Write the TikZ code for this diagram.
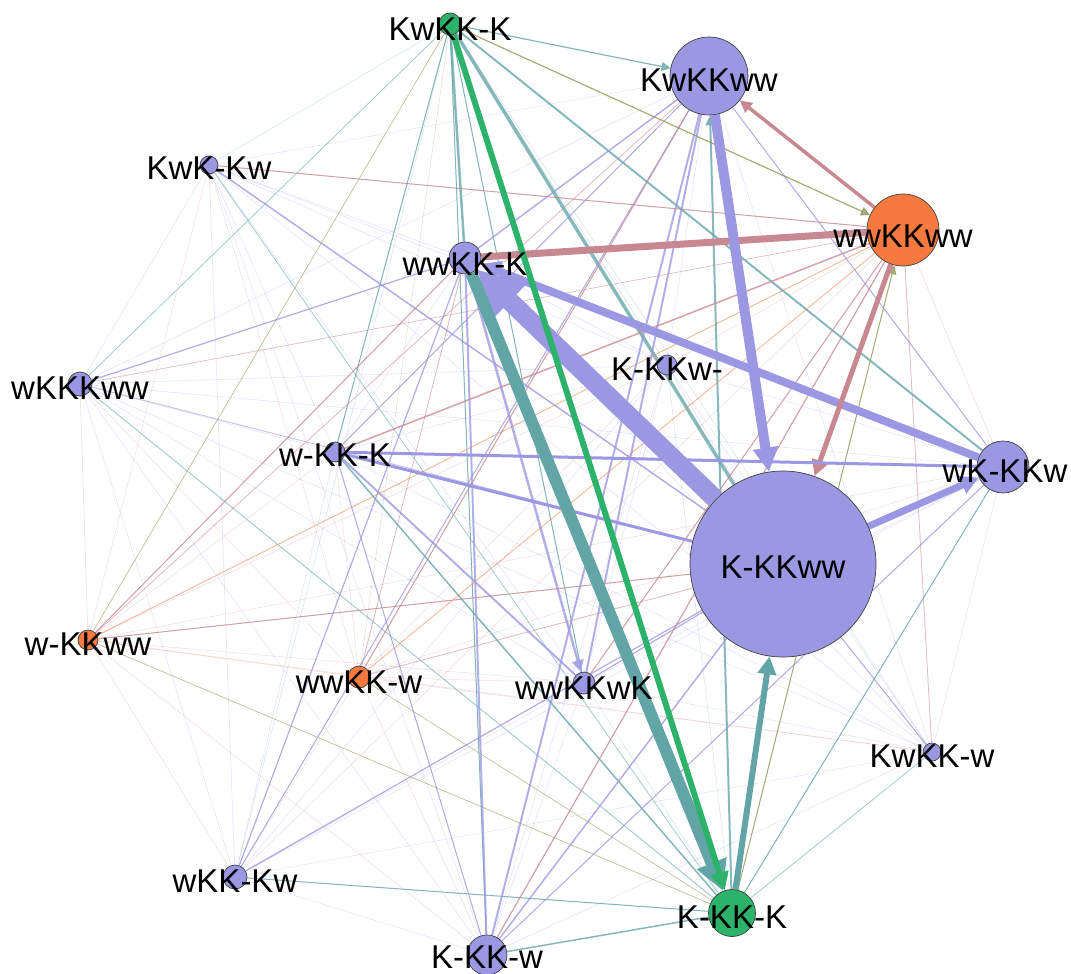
\documentclass[tikz,border=0pt]{standalone}
\usepackage{fontspec}
\setmainfont{Liberation Sans}
\usetikzlibrary{arrows.meta}
\definecolor{vpurple}{RGB}{155,151,226}
\definecolor{vorange}{RGB}{246,121,64}
\definecolor{vgreen}{RGB}{44,178,106}
\colorlet{eteal}{vpurple!50!vgreen}
\colorlet{epink}{vpurple!50!vorange}
\colorlet{eolive}{vorange!50!vgreen}
\pgfdeclarelayer{edges}
\pgfsetlayers{edges,main}
\def\vlist{KwKK-K/vgreen, KwKKww/vpurple, wwKKww/vorange, KwK-Kw/vpurple, wwKK-K/vpurple, wKKKww/vpurple, K-KKw-/vpurple, w-KK-K/vpurple, wK-KKw/vpurple, K-KKww/vpurple, w-KKww/vorange, wwKK-w/vorange, wwKKwK/vpurple, KwKK-w/vpurple, wKK-Kw/vpurple, K-KK-K/vgreen, K-KK-w/vpurple}
\begin{document}
\begin{tikzpicture}[x=1pt, y=-1pt,
		vtx/.style={circle, draw=black!75, line width=0.7pt, inner sep=0pt, minimum size=#1},
		lbl/.style={inner sep=0pt, font=\fontsize{33}{33}\selectfont},
		faint/.style={line width=0.5pt, opacity=0.3},
		mid/.style={line width=#1, opacity=0.75},
		dim/.style={line width=#1, opacity=0.45},
		heavy/.style={line width=#1},
		hd/.style={-{Triangle[length=#1, width=#1]}},
	]
	\useasboundingbox (0,0) rectangle (1071,974);

	% states
	\node[vtx=22pt, fill=vgreen] (KwKK-K) at (450,24) {};
	\node[vtx=78pt, fill=vpurple] (KwKKww) at (709,76) {};
	\node[vtx=72pt, fill=vorange] (wwKKww) at (903,230) {};
	\node[vtx=18pt, fill=vpurple] (KwK-Kw) at (209,165) {};
	\node[vtx=32pt, fill=vpurple] (wwKK-K) at (465,258) {};
	\node[vtx=24pt, fill=vpurple] (wKKKww) at (80,384) {};
	\node[vtx=20pt, fill=vpurple] (K-KKw-) at (667,365) {};
	\node[vtx=20pt, fill=vpurple] (w-KK-K) at (335,452) {};
	\node[vtx=52pt, fill=vpurple] (wK-KKw) at (1003,467) {};
	\node[vtx=186pt, fill=vpurple] (K-KKww) at (783,564) {};
	\node[vtx=20pt, fill=vorange] (w-KKww) at (88,640) {};
	\node[vtx=22pt, fill=vorange] (wwKK-w) at (359,677) {};
	\node[vtx=22pt, fill=vpurple] (wwKKwK) at (584,683) {};
	\node[vtx=18pt, fill=vpurple] (KwKK-w) at (932,752) {};
	\node[vtx=24pt, fill=vpurple] (wKK-Kw) at (235,877) {};
	\node[vtx=47pt, fill=vgreen] (K-KK-K) at (732,913) {};
	\node[vtx=40pt, fill=vpurple] (K-KK-w) at (487,955) {};

	\begin{pgfonlayer}{edges}
		% weak transitions
		\foreach \a/\ca [count=\i] in \vlist {
			\foreach \b/\cb [count=\j] in \vlist {
				\ifnum\i<\j \draw[faint, draw=\ca!50!\cb] (\a) -- (\b); \fi
			}
		}

		% medium transitions
		\draw[mid=1.2pt, eteal, hd=9pt] (KwKK-K) -- (KwKKww);
		\draw[mid=2.5pt, eteal] (KwKK-K) -- (wwKK-K);
		\draw[mid=3.5pt, eteal] (KwKK-K) -- (K-KKww);
		\draw[mid=2pt, eteal] (KwKK-K) -- (wK-KKw);
		\draw[mid=1pt, eteal] (KwKK-K) -- (w-KK-K);
		\draw[mid=1pt, eteal] (KwKK-K) -- (wwKKwK);
		\draw[mid=1pt, eteal] (KwKK-K) -- (K-KK-w);
		\draw[dim=0.8pt, eteal] (KwKK-K) -- (wKKKww);
		\draw[mid=2pt, eteal, hd=10pt] (K-KK-K) -- (KwKKww);
		\draw[mid=1.5pt, eteal] (K-KK-K) -- (w-KK-K);
		\draw[mid=1pt, eteal] (K-KK-K) -- (wK-KKw);
		\draw[mid=1.5pt, eteal] (K-KK-K) -- (K-KK-w);
		\draw[mid=1pt, eteal] (K-KK-K) -- (wKK-Kw);
		\draw[dim=0.8pt, eteal] (K-KK-K) -- (KwKK-w);
		\draw[dim=1pt, eteal] (K-KK-K) -- (wKKKww);
		\draw[dim=0.8pt, eteal] (K-KK-K) -- (KwK-Kw);

		\draw[mid=1.5pt, vpurple] (KwK-Kw) -- (K-KKww);
		\draw[mid=1.2pt, vpurple] (wKKKww) -- (wwKK-K);
		\draw[dim=1pt, vpurple] (wKKKww) -- (K-KKww);
		\draw[mid=1.2pt, vpurple] (wKK-Kw) -- (wwKK-K);
		\draw[mid=1pt, vpurple] (wKK-Kw) -- (KwKKww);
		\draw[mid=1.2pt, vpurple] (wKK-Kw) -- (K-KKww);
		\draw[mid=2pt, vpurple] (K-KK-w) -- (KwKKww);
		\draw[mid=2pt, vpurple] (K-KK-w) -- (wwKK-K);
		\draw[mid=1.5pt, vpurple] (K-KK-w) -- (K-KKww);
		\draw[mid=1pt, vpurple] (K-KK-w) -- (wK-KKw);
		\draw[mid=1pt, vpurple] (K-KK-w) -- (w-KK-K);
		\draw[mid=2pt, vpurple] (wwKKwK) -- (KwKKww);
		\draw[mid=1.2pt, vpurple] (wwKKwK) -- (K-KKww);
		\draw[mid=2pt, vpurple] (w-KK-K) -- (wwKKwK);
		\draw[mid=1pt, vpurple] (w-KK-K) -- (KwKKww);
		\draw[mid=1.5pt, vpurple] (wwKK-K) -- (KwKKww);
		\draw[mid=2.5pt, vpurple, hd=12pt] (wwKK-K) -- (wwKKwK);
		\draw[mid=1pt, vpurple] (KwKKww) -- (wK-KKw);
		\draw[mid=1pt, vpurple] (K-KKww) -- (KwKK-w);

		\draw[mid=1.5pt, epink] (wwKKww) -- (w-KK-K);
		\draw[mid=1pt, epink] (wwKKww) -- (KwK-Kw);
		\draw[mid=1pt, epink] (wwKKww) -- (wwKKwK);
		\draw[mid=1.2pt, epink] (wwKKww) -- (K-KK-w);
		\draw[dim=0.8pt, epink] (wwKKww) -- (KwKK-w);
		\draw[dim=0.6pt, epink] (wwKKww) -- (wKKKww);
		\draw[mid=1pt, epink] (w-KKww) -- (K-KKww);
		\draw[mid=1pt, epink] (w-KKww) -- (wwKK-K);
		\draw[dim=0.8pt, epink] (w-KKww) -- (KwKKww);
		\draw[mid=1pt, epink] (wwKK-w) -- (KwKKww);
		\draw[dim=0.8pt, epink] (wwKK-w) -- (K-KKww);
		\draw[dim=0.8pt, epink] (wwKK-w) -- (wwKK-K);

		\draw[mid=1.2pt, eolive, hd=9pt] (KwKK-K) -- (wwKKww);
		\draw[mid=1pt, eolive, hd=9pt] (K-KK-K) -- (wwKKww);
		\draw[dim=0.7pt, eolive] (K-KK-K) -- (w-KKww);
		\draw[dim=0.7pt, eolive] (KwKK-K) -- (w-KKww);
		\draw[dim=0.6pt, eolive] (wwKK-w) -- (K-KK-K);
		\draw[dim=0.8pt, vorange] (w-KKww) -- (wwKKww);
		\draw[dim=0.8pt, vorange] (wwKK-w) -- (wwKKww);

		% strong transitions
		\draw[heavy=19pt, vpurple, hd=46pt] (K-KKww) -- (wwKK-K);
		\draw[heavy=8pt, vpurple, hd=20pt] (wK-KKw) -- (wwKK-K);
		\draw[heavy=7pt, epink] (wwKKww) -- (wwKK-K);
		\draw[heavy=10pt, vpurple, hd=24pt] (KwKKww) -- (K-KKww);
		\draw[heavy=5pt, epink, hd=16pt] (wwKKww) -- (K-KKww);
		\draw[heavy=3.5pt, epink, hd=12pt] (wwKKww) -- (KwKKww);
		\draw[heavy=7pt, vpurple, hd=18pt] (K-KKww) -- (wK-KKw);
		\draw[heavy=3pt, vpurple] (w-KK-K) -- (wK-KKw);
		\draw[heavy=3pt, vpurple] (w-KK-K) -- (K-KKww);
		\draw[heavy=12pt, eteal, hd=30pt] (wwKK-K) -- (K-KK-K);
		\draw[heavy=6pt, eteal, hd=18pt] (K-KK-K) -- (K-KKww);
		\draw[heavy=6pt, vgreen, hd=18pt] (KwKK-K) -- (K-KK-K);
	\end{pgfonlayer}

	% names
	\node[lbl] (tKwKK-K) at (450,29) {KwKK-K};
	\node[lbl] (tKwKKww) at (709,80) {KwKKww};
	\node[lbl] (twwKKww) at (903,236) {wwKKww};
	\node[lbl] (tKwK-Kw) at (209,168) {KwK-Kw};
	\node[lbl] (twwKK-K) at (465,264) {wwKK-K};
	\node[lbl] (twKKKww) at (80,388) {wKKKww};
	\node[lbl] (tK-KKw-) at (667,369) {K-KKw-};
	\node[lbl] (tw-KK-K) at (335,455) {w-KK-K};
	\node[lbl] (twK-KKw) at (1005,471) {wK-KKw};
	\node[lbl] (tK-KKww) at (783,567) {K-KKww};
	\node[lbl] (tw-KKww) at (88,644) {w-KKww};
	\node[lbl] (twwKK-w) at (359,682) {wwKK-w};
	\node[lbl] (twwKKwK) at (584,688) {wwKKwK};
	\node[lbl] (tKwKK-w) at (932,756) {KwKK-w};
	\node[lbl] (twKK-Kw) at (235,881) {wKK-Kw};
	\node[lbl] (tK-KK-K) at (732,917) {K-KK-K};
	\node[lbl] (tK-KK-w) at (487,957) {K-KK-w};
\end{tikzpicture}
\end{document}
